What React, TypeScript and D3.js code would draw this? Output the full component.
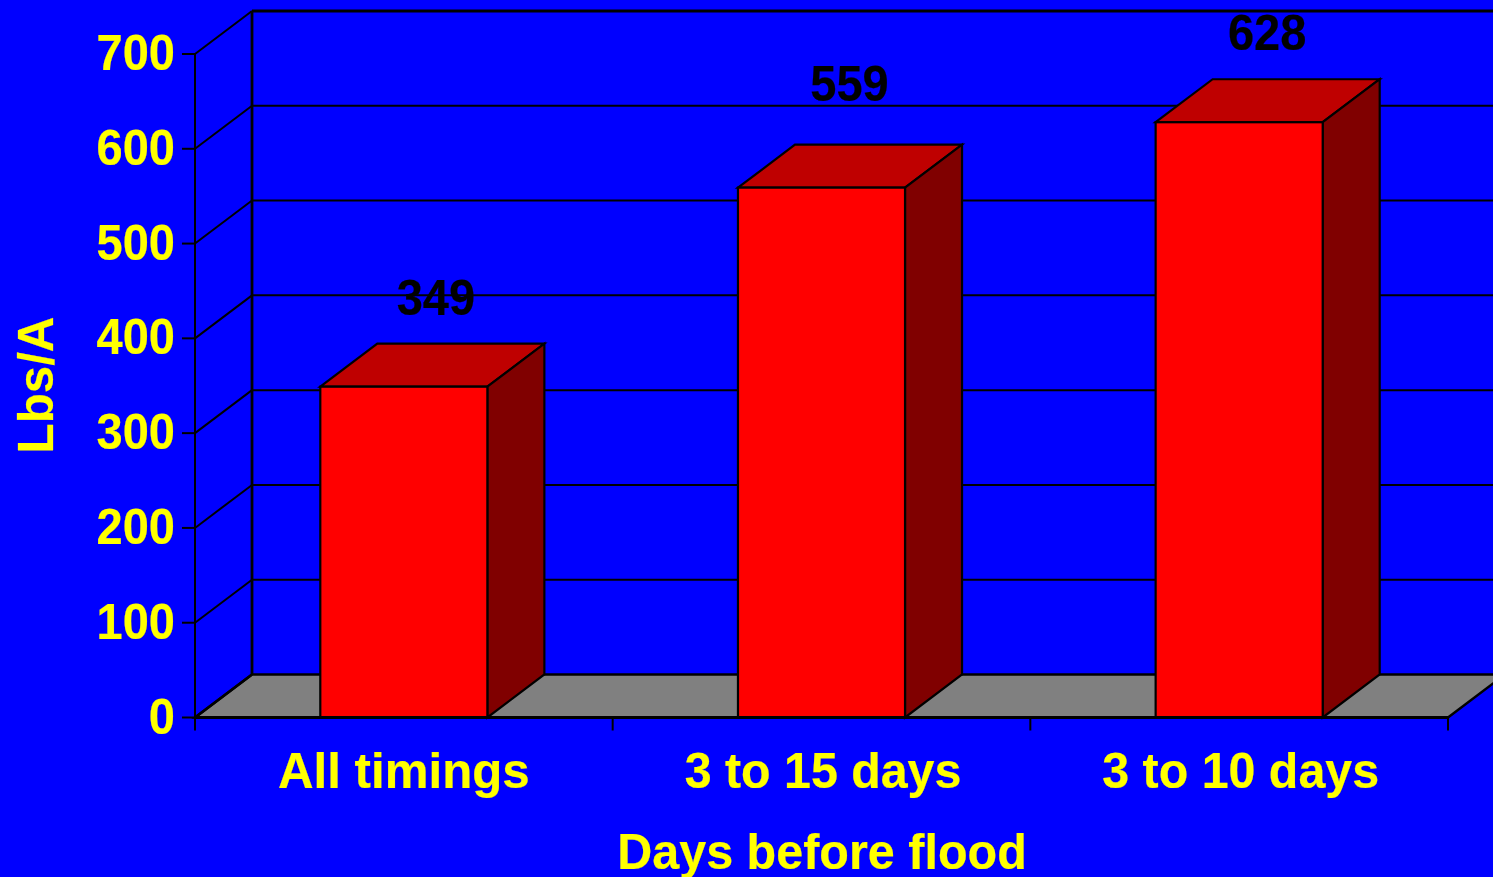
import React from 'react';
import * as d3 from 'd3';

const categories = ['All timings', '3 to 15 days', '3 to 10 days'];
const yields = [349, 559, 628];
const yTicks = [0, 100, 200, 300, 400, 500, 600, 700];
const xTitle = 'Days before flood';
const yTitle = 'Lbs/A';

// value labels were placed by hand in the source, not at a fixed distance from the bars
const labelNudge = [
  { dx: 32, dy: -29 },
  { dx: 28, dy: -44 },
  { dx: 28, dy: -29 },
];
// the digit labels run a little narrower than the word label
const categorySqueeze = [0.985, 0.967, 0.967];

const WIDTH = 1493;
const HEIGHT = 877;
const FONT = '"Liberation Sans", Arial, sans-serif';
const depth = { x: 57, y: -43 };

const x = d3.scaleBand<string>().domain(categories).range([195, 1448]).paddingInner(0.6).paddingOuter(0.3);
const y = d3.scaleLinear().domain([0, 700]).range([717.5, 54]);

const edges = [0, 1, 2, 3].map((i) => x.range()[0] + (i * (x.range()[1] - x.range()[0])) / categories.length);

const poly = d3.line<[number, number]>().curve(d3.curveLinearClosed);

// source text is a little taller than its width suggests, so it is squeezed sideways
const Label = ({ px, py, sx, anchor, fill, rotate, children }: any) => (
  <text
    transform={`translate(${px},${py}) rotate(${rotate || 0}) scale(${sx},1)`}
    textAnchor={anchor}
    fill={fill}
    stroke={fill}
    strokeWidth={0.2}
  >
    {children}
  </text>
);

export default function App() {
  const x0 = x.range()[0];
  const x1 = x.range()[1];
  const y0 = y(0);
  const yTop = y(700);

  return (
    <svg
      width={WIDTH}
      height={HEIGHT}
      viewBox={`0 0 ${WIDTH} ${HEIGHT}`}
      style={{ position: 'absolute', left: 0, top: 0, background: '#0000ff', display: 'block' }}
    >
      {/* floor */}
      <path
        d={poly([
          [x0, y0],
          [x0 + depth.x, y0 + depth.y],
          [x1 + depth.x, y0 + depth.y],
          [x1, y0],
        ]) as string}
        fill="#808080"
        stroke="#000"
        strokeWidth={2.5}
      />

      {/* back wall and side wall grid */}
      {yTicks.map((t) => (
        <g key={t} stroke="#000">
          {t > 0 && (
            <line x1={x0 + depth.x} x2={WIDTH + 20} y1={y(t) + depth.y} y2={y(t) + depth.y} strokeWidth={t === 700 ? 2.8 : 2} />
          )}
          <line x1={x0} x2={x0 + depth.x} y1={y(t)} y2={y(t) + depth.y} strokeWidth={t === 0 ? 2.5 : 2} />
          <line x1={x0 - 13} x2={x0} y1={y(t)} y2={y(t)} strokeWidth={2} />
        </g>
      ))}
      <line x1={x0 + depth.x} x2={x0 + depth.x} y1={yTop + depth.y} y2={y0 + depth.y} stroke="#000" strokeWidth={2.8} />
      <line x1={x0} x2={x0} y1={yTop} y2={y0} stroke="#000" strokeWidth={2} />

      {/* bars */}
      {categories.map((c, i) => {
        const left = x(c) as number;
        const right = left + x.bandwidth();
        const top = y(yields[i]);
        return (
          <g key={c} stroke="#000" strokeWidth={2.2} strokeLinejoin="miter">
            <path
              d={poly([
                [left, top],
                [left + depth.x, top + depth.y],
                [right + depth.x, top + depth.y],
                [right, top],
              ]) as string}
              fill="#bf0000"
            />
            <path
              d={poly([
                [right, top],
                [right + depth.x, top + depth.y],
                [right + depth.x, y0 + depth.y],
                [right, y0],
              ]) as string}
              fill="#800000"
            />
            <rect x={left} y={top} width={x.bandwidth()} height={y0 - top} fill="#ff0000" />
          </g>
        );
      })}

      {/* x axis */}
      <line x1={x0} x2={x1} y1={y0} y2={y0} stroke="#000" strokeWidth={3} />
      {edges.map((e) => (
        <line key={e} x1={e} x2={e} y1={y0} y2={y0 + 13} stroke="#000" strokeWidth={2} />
      ))}

      <g fontFamily={FONT} fontWeight={700} fontSize={50}>
        {yTicks.map((t) => (
          <Label key={t} px={175} py={y(t) + 16} sx={0.94} anchor="end" fill="#ffff00">
            {t}
          </Label>
        ))}
        {categories.map((c, i) => (
          <Label key={c} px={(x(c) as number) + x.bandwidth() / 2 + (i > 0 ? 1.5 : 0)} py={788} sx={categorySqueeze[i]} anchor="middle" fill="#ffff00">
            {c}
          </Label>
        ))}
        {categories.map((c, i) => (
          <Label
            key={c}
            px={(x(c) as number) + x.bandwidth() / 2 + labelNudge[i].dx}
            py={y(yields[i]) + depth.y + labelNudge[i].dy}
            sx={0.94}
            anchor="middle"
            fill="#000"
          >
            {yields[i]}
          </Label>
        ))}
        <Label px={822} py={869} sx={0.97} anchor="middle" fill="#ffff00">
          {xTitle}
        </Label>
        <Label px={53} py={385} sx={0.985} rotate={-90} anchor="middle" fill="#ffff00">
          {yTitle}
        </Label>
      </g>
    </svg>
  );
}
